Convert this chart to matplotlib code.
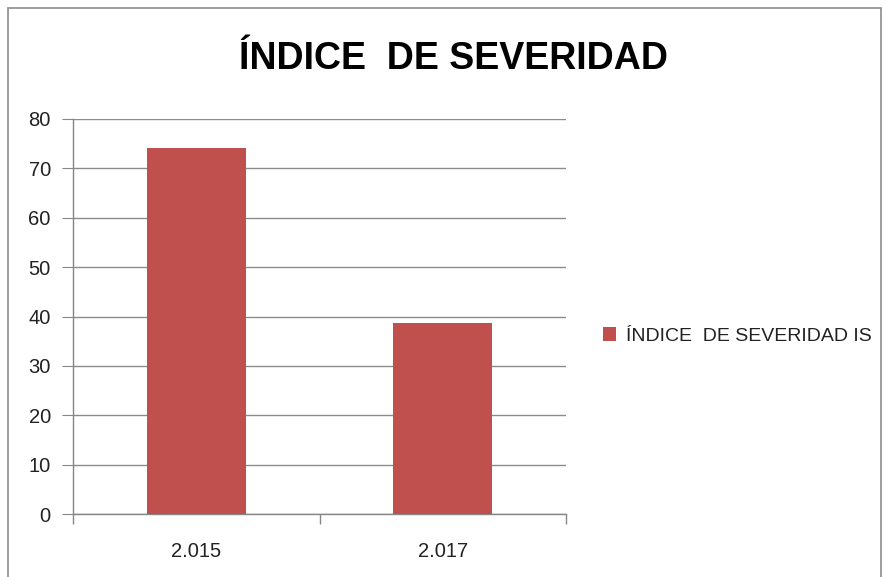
import matplotlib
matplotlib.use("Agg")
import matplotlib.pyplot as plt
from matplotlib.patches import Rectangle

# data
years = ["2.015", "2.017"]
severity = [74.2, 38.6]
series_name = "ÍNDICE  DE SEVERIDAD IS"
title = "ÍNDICE  DE SEVERIDAD"

plt.rcParams["font.family"] = ["Liberation Sans", "DejaVu Sans"]

fig = plt.figure(figsize=(8.86, 5.77), dpi=100)
fig.patch.set_facecolor("white")

# outer chart frame
fig.add_artist(Rectangle((8 / 886, -0.1), 873 / 886, (577 - 8) / 577 + 0.1,
                         transform=fig.transFigure, fill=False,
                         edgecolor="#8c8c8c", linewidth=1.2))

ax = fig.add_axes([73 / 886, 1 - 514 / 577, (566 - 73) / 886, (514 - 119) / 577])
x = range(len(years))
ax.bar(x, severity, width=0.4, color="#C0504D", zorder=3, label=series_name)

ax.set_xlim(-0.5, len(years) - 0.5)
ax.set_ylim(0, 80)
ax.set_yticks(range(0, 81, 10))
ax.set_xticks(list(x))
ax.set_xticklabels(years, fontsize=14.5, color="#222222")
ax.tick_params(axis="x", length=0, pad=20)
ax.set_xticks([-0.5, 0.5, 1.5], minor=True)
ax.tick_params(axis="x", which="minor", length=7, color="#868686", width=1)
ax.tick_params(axis="y", length=8, color="#868686", labelsize=14.5,
               labelcolor="#222222", pad=8)

ax.grid(axis="y", color="#8c8c8c", linewidth=1, zorder=0)
for side in ["top", "right"]:
    ax.spines[side].set_visible(False)
for side in ["left", "bottom"]:
    ax.spines[side].set_color("#868686")
    ax.spines[side].set_linewidth(1)

fig.text(453 / 886, 1 - 59 / 577, title, ha="center", va="center",
         fontsize=27, fontweight="bold", color="black")

leg = fig.legend(loc="center left", bbox_to_anchor=(585 / 886, 1 - 336 / 577),
                 frameon=False, fontsize=14, handlelength=0.7, handleheight=0.7,
                 handletextpad=0.5)
for t in leg.get_texts():
    t.set_color("#222222")

fig.savefig("out.png", dpi=100)
